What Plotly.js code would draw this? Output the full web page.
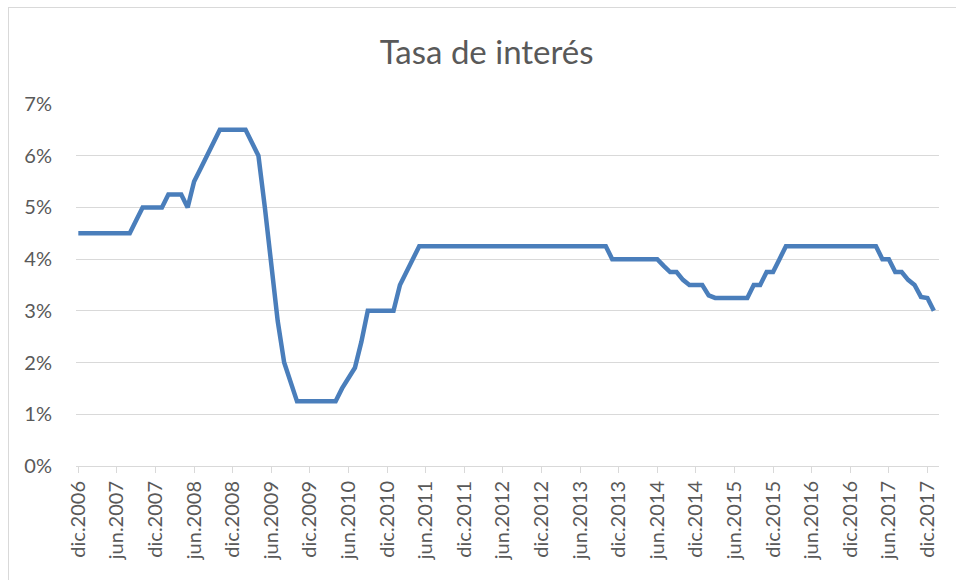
<!DOCTYPE html>
<html>
<head>
<meta charset="utf-8">
<script src="https://cdn.plot.ly/plotly-3.0.1.min.js"></script>
<style>
  html, body { margin: 0; padding: 0; background: #ffffff; }
  #wrap { position: relative; width: 956px; height: 580px; overflow: hidden; }
  #chart { width: 956px; height: 580px; }
  #frame { position: absolute; left: 8px; top: 7px; width: 1000px; height: 600px;
           border-left: 1px solid #d9d9d9; border-top: 1px solid #d9d9d9; pointer-events: none; }
</style>
</head>
<body>
<div id="wrap">
  <div id="chart"></div>
  <div id="frame"></div>
</div>
<script>
// Monthly series, dic.2006 (index 0) to ene.2018 (index 133), in percent
const rates = [
  4.5, 4.5, 4.5, 4.5, 4.5, 4.5, 4.5, 4.5, 4.5, 4.75,
  5.0, 5.0, 5.0, 5.0, 5.25, 5.25, 5.25, 5.0, 5.5, 5.75,
  6.0, 6.25, 6.5, 6.5, 6.5, 6.5, 6.5, 6.25, 6.0, 5.0,
  3.9, 2.8, 2.0, 1.6, 1.25, 1.25, 1.25, 1.25, 1.25, 1.25,
  1.25, 1.5, 1.7, 1.9, 2.4, 3.0, 3.0, 3.0, 3.0, 3.0,
  3.5, 3.75, 4.0, 4.25, 4.25, 4.25, 4.25, 4.25, 4.25, 4.25,
  4.25, 4.25, 4.25, 4.25, 4.25, 4.25, 4.25, 4.25, 4.25, 4.25,
  4.25, 4.25, 4.25, 4.25, 4.25, 4.25, 4.25, 4.25, 4.25, 4.25,
  4.25, 4.25, 4.25, 4.0, 4.0, 4.0, 4.0, 4.0, 4.0, 4.0,
  4.0, 3.87, 3.75, 3.75, 3.6, 3.5, 3.5, 3.5, 3.3, 3.25,
  3.25, 3.25, 3.25, 3.25, 3.25, 3.5, 3.5, 3.75, 3.75, 4.0,
  4.25, 4.25, 4.25, 4.25, 4.25, 4.25, 4.25, 4.25, 4.25, 4.25,
  4.25, 4.25, 4.25, 4.25, 4.25, 4.0, 4.0, 3.75, 3.75, 3.6,
  3.5, 3.27, 3.25, 3.0
];

// Tick labels, one every 6 months starting at index 0
const tickLabels = [
  "dic.2006", "jun.2007", "dic.2007", "jun.2008", "dic.2008", "jun.2009",
  "dic.2009", "jun.2010", "dic.2010", "jun.2011", "dic.2011", "jun.2012",
  "dic.2012", "jun.2013", "dic.2013", "jun.2014", "dic.2014", "jun.2015",
  "dic.2015", "jun.2016", "dic.2016", "jun.2017", "dic.2017"
];
const monthsPerTick = 6;
const yTicks = [0, 1, 2, 3, 4, 5, 6, 7];

const xIdx = rates.map((_, i) => i);
const tickVals = tickLabels.map((_, i) => i * monthsPerTick);

const FONT = "Lato, 'Open Sans', sans-serif";
const GRAY = "#595959";

const trace = {
  x: xIdx,
  y: rates,
  type: "scatter",
  mode: "lines",
  line: { color: "#4a7ebb", width: 4.5, shape: "linear" },
  hoverinfo: "y"
};

const layout = {
  width: 956,
  height: 580,
  margin: { l: 76, r: 17, t: 104, b: 114, pad: 0 },
  paper_bgcolor: "#ffffff",
  plot_bgcolor: "#ffffff",
  showlegend: false,
  title: {
    text: "Tasa de interés",
    font: { family: FONT, size: 33, color: GRAY },
    x: 0.509, xref: "container", xanchor: "center",
    y: 52, yref: "container", yanchor: "middle"
  },
  xaxis: {
    range: [-0.36, 133.8],
    tickmode: "array",
    tickvals: tickVals,
    ticktext: tickLabels,
    tickangle: -90,
    ticks: "outside",
    ticklen: 6,
    tickcolor: "#d9d9d9",
    tickwidth: 1,
    showline: true,
    linecolor: "#d9d9d9",
    linewidth: 1,
    showgrid: false,
    zeroline: false,
    tickfont: { family: FONT, size: 20, color: GRAY },
    fixedrange: true
  },
  yaxis: {
    range: [0, 7],
    tickmode: "array",
    tickvals: yTicks,
    ticktext: yTicks.map(v => v + "%"),
    showgrid: true,
    gridcolor: "#d9d9d9",
    gridwidth: 1,
    zeroline: false,
    showline: false,
    ticks: "",
    ticklabelstandoff: 23,
    tickfont: { family: FONT, size: 20, color: GRAY },
    fixedrange: true
  }
};

Plotly.newPlot("chart", [trace], layout, { displayModeBar: false, staticPlot: true });
</script>
</body>
</html>
